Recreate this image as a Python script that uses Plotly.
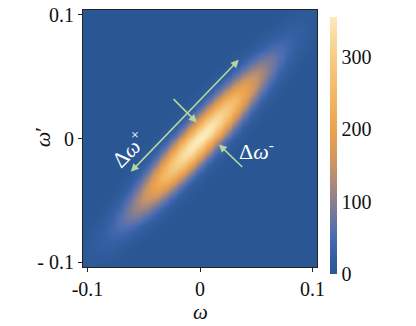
import numpy as np
import plotly.graph_objects as go

# ---- data ----
peak_value = 355.0          # amplitude at the centre of the joint spectrum
sigma_major = 0.052         # width along the omega = omega' diagonal
sigma_minor = 0.0095        # width across the diagonal
centre = [0.0, 0.0]
axis_range = [-0.104, 0.104]
x_tickvals = [-0.1, 0, 0.1]
x_ticktext = ["-0.1", "0", "0.1"]
y_tickvals = [-0.1, 0, 0.1]
y_ticktext = ["- 0.1", "0", "0.1"]
cbar_tickvals = [0, 100, 200, 300]

# arrows in data coordinates: (tail_x, tail_y, head_x, head_y)
arrow_long = [-0.0628, -0.0282, 0.0345, 0.0637]
arrow_short1 = [-0.0248, 0.0331, -0.0027, 0.0129]
arrow_short2 = [0.0389, -0.0242, 0.0168, -0.0048]
label_plus_pos = [-0.0640, -0.0085]
label_minus_pos = [0.0500, -0.0090]

# ---- grid ----
w = np.linspace(axis_range[0], axis_range[1], 261)
wp = np.linspace(axis_range[0], axis_range[1], 261)
X, Y = np.meshgrid(w, wp)
u = ((X - centre[0]) + (Y - centre[1])) / np.sqrt(2)
v = ((Y - centre[1]) - (X - centre[0])) / np.sqrt(2)
Z = peak_value * np.exp(-u**2 / (2 * sigma_major**2) - v**2 / (2 * sigma_minor**2))

colorscale = [
    [0.00, "#2a5793"],
    [0.08, "#3660a4"],
    [0.15, "#4d6cb2"],
    [0.28, "#8a7f8c"],
    [0.42, "#c99466"],
    [0.56, "#eca24c"],
    [0.70, "#f2b867"],
    [0.85, "#f6cd86"],
    [1.00, "#fcebbb"],
]

font_family = "Liberation Serif"

fig = go.Figure(
    go.Heatmap(
        x=w, y=wp, z=Z, zmin=0, zmax=peak_value,
        colorscale=colorscale, zsmooth="best",
        colorbar=dict(
            thickness=7, len=1.0, lenmode="fraction",
            x=1.055, xanchor="left", xpad=0,
            y=-0.027, yanchor="bottom", ypad=0,
            outlinewidth=0, ticks="", tickvals=cbar_tickvals,
            tickfont=dict(family=font_family, size=20, color="#111"),
        ),
    )
)

arrow_color = "#b5d69a"
anns = []
for arr, side in [(arrow_long, "end+start"), (arrow_short1, "end"), (arrow_short2, "end")]:
    anns.append(dict(
        x=arr[2], y=arr[3], ax=arr[0], ay=arr[1],
        xref="x", yref="y", axref="x", ayref="y",
        showarrow=True, arrowhead=2, startarrowhead=2, arrowside=side,
        arrowsize=1, startarrowsize=1, arrowwidth=1.6, arrowcolor=arrow_color,
        standoff=0, startstandoff=0, text="",
    ))
anns.append(dict(
    x=label_plus_pos[0], y=label_plus_pos[1], xref="x", yref="y",
    text="Δ<i>ω</i><sup>+</sup>", showarrow=False, textangle=-45,
    font=dict(family=font_family, size=22, color="white"),
))
anns.append(dict(
    x=label_minus_pos[0], y=label_minus_pos[1], xref="x", yref="y",
    text="Δ<i>ω</i><sup>-</sup>", showarrow=False,
    font=dict(family=font_family, size=22, color="white"),
))
# axis titles
anns.append(dict(
    x=0.5, y=-0.176, xref="paper", yref="paper", xanchor="center", yanchor="middle",
    text="<i>ω</i>", showarrow=False,
    font=dict(family=font_family, size=21, color="#111"),
))
anns.append(dict(
    x=-0.175, y=0.505, xref="paper", yref="paper", xanchor="center", yanchor="middle",
    text="<i>ω</i>′", showarrow=False, textangle=-90,
    font=dict(family=font_family, size=22, color="#111"),
))

axis_common = dict(
    range=axis_range, showline=True, linecolor="#222", linewidth=1.2, mirror=True,
    ticks="outside", ticklen=4, tickcolor="#222", showgrid=False, zeroline=False,
    automargin=False,
    tickfont=dict(family=font_family, size=20, color="#111"),
)

fig.update_layout(
    width=416, height=326,
    margin=dict(l=83, r=99, t=10, b=59, autoexpand=False),
    paper_bgcolor="white", plot_bgcolor="white",
    annotations=anns,
    xaxis=dict(axis_common, tickvals=x_tickvals, ticktext=x_ticktext),
    yaxis=dict(axis_common, tickvals=y_tickvals, ticktext=y_ticktext),
)

fig.write_html(
    "out.html",
    config={"displayModeBar": False},
    post_script="document.body.style.margin='0px';document.body.style.overflow='hidden';",
)
